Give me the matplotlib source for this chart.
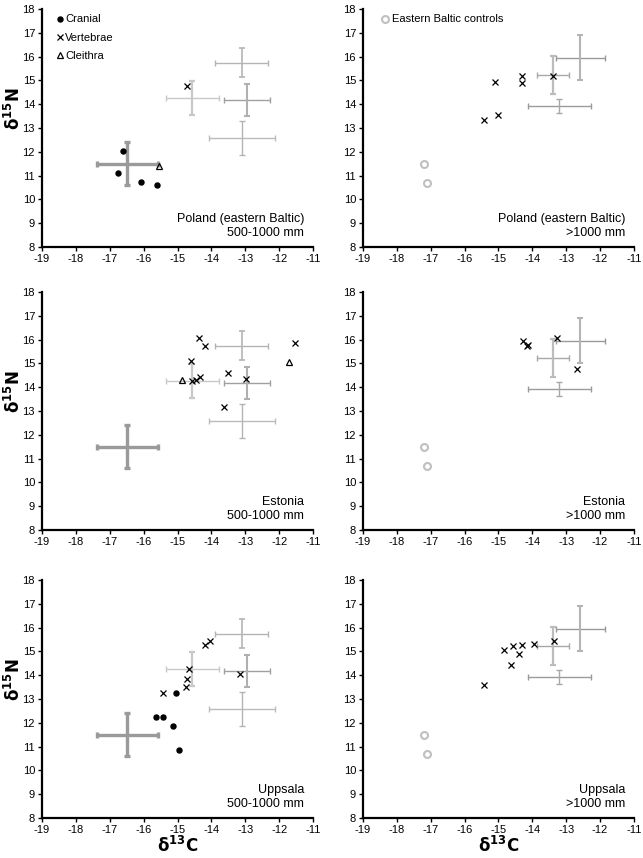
"""Six-panel d13C / d15N scatter: regions x size class, with reference crosses."""
import matplotlib

matplotlib.use("Agg")
import matplotlib.pyplot as plt

plt.rcParams["font.family"] = ["Liberation Sans", "DejaVu Sans"]
plt.rcParams["axes.unicode_minus"] = False

# reference means +/- sd (500-1000 mm panels)
SMALL_REF_X = [-16.48, -14.56, -13.11, -12.95, -13.10]
SMALL_REF_Y = [11.50, 14.26, 15.73, 14.18, 12.58]
SMALL_REF_XERR = [0.89, 0.79, 0.77, 0.68, 0.97]
SMALL_REF_YERR = [0.91, 0.70, 0.61, 0.66, 0.70]

# reference means +/- sd (>1000 mm panels)
LARGE_REF_X = [-12.58, -13.38, -13.20]
LARGE_REF_Y = [15.95, 15.21, 13.92]
LARGE_REF_XERR = [0.73, 0.47, 0.93]
LARGE_REF_YERR = [0.95, 0.80, 0.29]

# eastern Baltic controls (>1000 mm panels)
CONTROL_X = [-17.2, -17.1]
CONTROL_Y = [11.5, 10.7]

# Poland (eastern Baltic)
POL_S_CRAN_X = [-16.62, -16.75, -16.09, -15.60]
POL_S_CRAN_Y = [12.02, 11.12, 10.72, 10.62]
POL_S_VERT_X = [-14.73]
POL_S_VERT_Y = [14.77]
POL_S_CLEI_X = [-15.54]
POL_S_CLEI_Y = [11.40]
POL_L_VERT_X = [-15.44, -15.02, -15.09, -14.31, -14.31, -13.39]
POL_L_VERT_Y = [13.33, 13.54, 14.95, 15.18, 14.90, 15.20]

# Estonia
EST_S_VERT_X = [-14.36, -14.18, -14.60, -14.56, -14.44, -14.34, -13.52, -12.99, -13.62, -11.54]
EST_S_VERT_Y = [16.06, 15.71, 15.11, 14.26, 14.32, 14.42, 14.61, 14.36, 13.15, 15.86]
EST_S_CLEI_X = [-14.88, -11.71]
EST_S_CLEI_Y = [14.31, 15.07]
EST_L_VERT_X = [-14.29, -14.17, -14.14, -13.27, -12.67]
EST_L_VERT_Y = [15.93, 15.72, 15.75, 16.06, 14.76]

# Uppsala
UPP_S_CRAN_X = [-15.05, -15.64, -15.42, -15.14, -14.95]
UPP_S_CRAN_Y = [13.25, 12.25, 12.23, 11.86, 10.87]
UPP_S_VERT_X = [-15.44, -14.75, -14.71, -14.65, -14.19, -14.03, -13.16]
UPP_S_VERT_Y = [13.23, 13.51, 13.85, 14.25, 15.25, 15.44, 14.06]
UPP_L_VERT_X = [-15.43, -14.85, -14.56, -14.30, -14.40, -14.64, -13.94, -13.36]
UPP_L_VERT_Y = [13.58, 15.06, 15.24, 15.27, 14.89, 14.42, 15.32, 15.42]

X_TICKS = list(range(-19, -10))
Y_TICKS = list(range(8, 19))

# styling of the reference crosses: (x colour, y colour, x lw, y lw)
SMALL_REF_STYLE = [
    ("#9a9a9a", "#9a9a9a", 2.4, 2.4),
    ("#c8c8c8", "#c8c8c8", 1.0, 1.6),
    ("#b4b4b4", "#b4b4b4", 1.0, 1.2),
    ("#a0a0a0", "#b0b0b0", 1.0, 1.5),
    ("#bcbcbc", "#b4b4b4", 1.0, 1.0),
]
LARGE_REF_STYLE = [
    ("#9a9a9a", "#b4b4b4", 1.0, 1.5),
    ("#a8a8a8", "#bcbcbc", 1.0, 1.6),
    ("#9a9a9a", "#a8a8a8", 1.0, 1.0),
]

# axes rectangles (left, bottom, width, height) in figure fractions
COL_LEFT = [0.0653, 0.5645]
ROW_BOTTOM = [0.7121, 0.3823, 0.0466]
AX_W = 0.4215
AX_H = 0.2775


def draw_refs(ax, xs, ys, xerrs, yerrs, styles):
    """Draw the reference mean +/- sd crosses."""
    for x, y, xe, ye, (cx, cy, lwx, lwy) in zip(xs, ys, xerrs, yerrs, styles):
        ax.errorbar([x], [y], xerr=[xe], fmt="none", ecolor=cx, elinewidth=lwx,
                    capsize=2.0, capthick=lwx, zorder=1)
        ax.errorbar([x], [y], yerr=[ye], fmt="none", ecolor=cy, elinewidth=lwy,
                    capsize=2.0, capthick=lwy, zorder=1)


def style_axes(ax, label_text, xlabel=False, ylabel=False):
    ax.set_xlim(-19, -11)
    ax.set_ylim(8, 18)
    ax.set_xticks(X_TICKS)
    ax.set_yticks(Y_TICKS)
    ax.tick_params(direction="out", length=3, width=1, labelsize=8, pad=2)
    for side in ("top", "right"):
        ax.spines[side].set_visible(False)
    for side in ("left", "bottom"):
        ax.spines[side].set_linewidth(1.6)
    ax.text(0.968, 0.035, label_text, transform=ax.transAxes, ha="right",
            va="bottom", fontsize=9, linespacing=1.2)
    if ylabel:
        ax.set_ylabel(r"$\mathbf{\delta^{15}N}$", fontsize=12, va="center")
        ax.yaxis.set_label_coords(-0.108, 0.58)
    if xlabel:
        ax.set_xlabel(r"$\mathbf{\delta^{13}C}$", fontsize=12, labelpad=0)


def scatter_cran(ax, xs, ys, label=None):
    ax.plot(xs, ys, "o", color="black", ms=3.6, ls="none", label=label, zorder=3)


def scatter_vert(ax, xs, ys, label=None):
    ax.plot(xs, ys, "x", color="black", ms=4.5, mew=0.9, ls="none", label=label, zorder=3)


def scatter_clei(ax, xs, ys, label=None):
    ax.plot(xs, ys, "^", mfc="none", mec="black", ms=4.5, mew=0.9, ls="none",
            label=label, zorder=3)


def scatter_ctrl(ax, label=None):
    ax.plot(CONTROL_X, CONTROL_Y, "o", mfc="none", mec="#c0c0c0", ms=5, mew=1.5,
            ls="none", label=label, zorder=3)


def main():
    fig = plt.figure(figsize=(6.43, 8.58), dpi=100)
    axes = [[fig.add_axes([COL_LEFT[c], ROW_BOTTOM[r], AX_W, AX_H]) for c in range(2)]
            for r in range(3)]

    for r in range(3):
        draw_refs(axes[r][0], SMALL_REF_X, SMALL_REF_Y, SMALL_REF_XERR, SMALL_REF_YERR,
                  SMALL_REF_STYLE)
        draw_refs(axes[r][1], LARGE_REF_X, LARGE_REF_Y, LARGE_REF_XERR, LARGE_REF_YERR,
                  LARGE_REF_STYLE)

    # Poland
    ax = axes[0][0]
    scatter_cran(ax, POL_S_CRAN_X, POL_S_CRAN_Y, "Cranial")
    scatter_vert(ax, POL_S_VERT_X, POL_S_VERT_Y, "Vertebrae")
    scatter_clei(ax, POL_S_CLEI_X, POL_S_CLEI_Y, "Cleithra")
    ax.legend(loc="upper left", frameon=False, fontsize=8, handlelength=0.6,
              handletextpad=0.15, labelspacing=0.75, borderaxespad=0.1,
              bbox_to_anchor=(0.035, 1.0))
    style_axes(ax, "Poland (eastern Baltic)\n500-1000 mm", ylabel=True)

    ax = axes[0][1]
    scatter_vert(ax, POL_L_VERT_X, POL_L_VERT_Y)
    scatter_ctrl(ax, "Eastern Baltic controls")
    ax.legend(loc="upper left", frameon=False, fontsize=8, handlelength=0.6,
              handletextpad=0.3, borderaxespad=0.1, bbox_to_anchor=(0.05, 1.0))
    style_axes(ax, "Poland (eastern Baltic)\n>1000 mm")

    # Estonia
    ax = axes[1][0]
    scatter_vert(ax, EST_S_VERT_X, EST_S_VERT_Y)
    scatter_clei(ax, EST_S_CLEI_X, EST_S_CLEI_Y)
    style_axes(ax, "Estonia\n500-1000 mm", ylabel=True)

    ax = axes[1][1]
    scatter_vert(ax, EST_L_VERT_X, EST_L_VERT_Y)
    scatter_ctrl(ax)
    style_axes(ax, "Estonia\n>1000 mm")

    # Uppsala
    ax = axes[2][0]
    scatter_cran(ax, UPP_S_CRAN_X, UPP_S_CRAN_Y)
    scatter_vert(ax, UPP_S_VERT_X, UPP_S_VERT_Y)
    style_axes(ax, "Uppsala\n500-1000 mm", xlabel=True, ylabel=True)

    ax = axes[2][1]
    scatter_vert(ax, UPP_L_VERT_X, UPP_L_VERT_Y)
    scatter_ctrl(ax)
    style_axes(ax, "Uppsala\n>1000 mm", xlabel=True)

    fig.savefig("out.png", dpi=100)
    plt.close(fig)


if __name__ == "__main__":
    main()
